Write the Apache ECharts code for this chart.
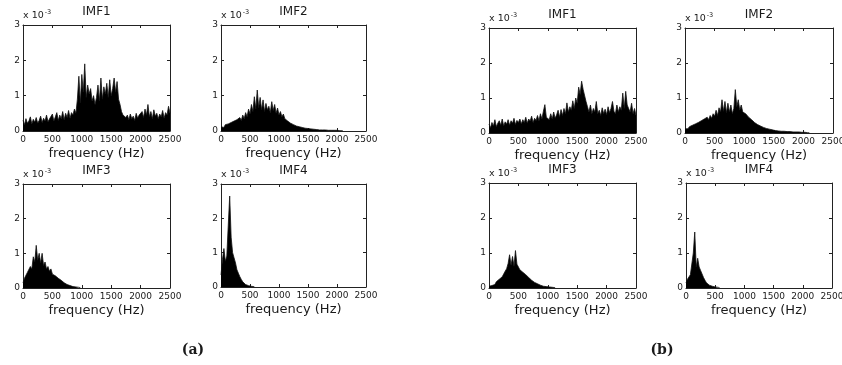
<!DOCTYPE html>
<html>
<head>
<meta charset="utf-8">
<script src="https://cdn.jsdelivr.net/npm/echarts@6/dist/echarts.min.js"></script>
<style>
html, body { margin: 0; padding: 0; background: #fff; }
#chart { width: 842px; height: 365px; }
</style>
</head>
<body>
<div id="chart"></div>
<script>
// spectra sampled every STEP Hz, amplitude in units of 1e-3
const STEP = 25;
const freqTicks = [0, 500, 1000, 1500, 2000, 2500];
const ampTicks = [0, 1, 2, 3];

// (a)
const imf1A = [
  0.30, 0.18, 0.35, 0.22, 0.28, 0.40, 0.20, 0.33, 0.25, 0.38,
  0.22, 0.30, 0.42, 0.24, 0.36, 0.28, 0.45, 0.26, 0.34, 0.30,
  0.48, 0.28, 0.40, 0.52, 0.30, 0.45, 0.35, 0.55, 0.32, 0.50,
  0.38, 0.58, 0.36, 0.52, 0.45, 0.62, 0.50, 0.90, 1.55, 0.80,
  1.60, 1.10, 1.90, 0.95, 1.30, 1.05, 1.20, 0.85, 1.00, 0.75,
  0.95, 1.30, 0.85, 1.50, 0.90, 1.25, 1.05, 1.35, 0.95, 1.45,
  1.00, 1.20, 1.50, 1.10, 1.40, 0.90, 0.75, 0.55, 0.45, 0.50,
  0.38, 0.45, 0.32, 0.48, 0.35, 0.42, 0.30, 0.50, 0.36, 0.45,
  0.40, 0.55, 0.38, 0.62, 0.45, 0.75, 0.40, 0.55, 0.35, 0.60,
  0.42, 0.50, 0.35, 0.48, 0.40, 0.58, 0.36, 0.52, 0.45, 0.70,
  0.50
];
const imf2A = [
  0.12, 0.15, 0.10, 0.18, 0.14, 0.20, 0.16, 0.24, 0.20, 0.28,
  0.25, 0.32, 0.28, 0.38, 0.30, 0.45, 0.35, 0.52, 0.40, 0.62,
  0.48, 0.75, 0.55, 0.97, 0.62, 1.16, 0.66, 0.95, 0.60, 0.88,
  0.55, 0.78, 0.60, 0.70, 0.52, 0.83, 0.58, 0.75, 0.50, 0.65,
  0.45, 0.55, 0.40, 0.48, 0.35, 0.40, 0.28, 0.32, 0.22, 0.25,
  0.18, 0.20, 0.14, 0.16, 0.12, 0.13, 0.10, 0.10, 0.08, 0.08,
  0.07, 0.06, 0.06, 0.05, 0.05, 0.04, 0.04, 0.04, 0.03, 0.03,
  0.03, 0.03, 0.03, 0.02, 0.02, 0.02, 0.02, 0.02, 0.02, 0.02,
  0.02, 0.01, 0.01, 0.01, 0.01
];
const imf3A = [
  0.15, 0.28, 0.25, 0.45, 0.40, 0.62, 0.55, 0.90, 0.75, 1.23,
  0.80, 1.00, 0.72, 1.00, 0.65, 0.75, 0.55, 0.62, 0.48, 0.55,
  0.40, 0.45, 0.35, 0.38, 0.28, 0.30, 0.22, 0.22, 0.15, 0.15,
  0.10, 0.10, 0.07, 0.06, 0.04, 0.03, 0.03, 0.02, 0.02, 0.01
];
const imf4A = [
  0.35, 0.80, 1.12, 0.75, 0.90, 1.80, 2.65, 1.45, 1.00, 0.85,
  0.70, 0.50, 0.40, 0.30, 0.22, 0.15, 0.10, 0.07, 0.05, 0.04,
  0.03, 0.02, 0.02, 0.01
];

// (b)
const imf1B = [
  0.25, 0.15, 0.30, 0.20, 0.38, 0.18, 0.28, 0.35, 0.22, 0.40,
  0.20, 0.32, 0.25, 0.38, 0.22, 0.35, 0.28, 0.42, 0.24, 0.36,
  0.30, 0.40, 0.26, 0.38, 0.30, 0.45, 0.28, 0.40, 0.34, 0.48,
  0.30, 0.42, 0.36, 0.50, 0.35, 0.55, 0.40, 0.62, 0.81, 0.45,
  0.50, 0.38, 0.55, 0.40, 0.60, 0.42, 0.52, 0.65, 0.45, 0.67,
  0.50, 0.70, 0.55, 0.86, 0.60, 0.75, 0.65, 0.92, 0.70, 1.00,
  0.85, 1.31, 1.10, 1.48, 1.25, 1.20, 0.90, 0.75, 0.60, 0.80,
  0.55, 0.70, 0.60, 0.90, 0.55, 0.65, 0.50, 0.72, 0.55, 0.68,
  0.52, 0.75, 0.58, 0.70, 0.90, 0.62, 0.55, 0.80, 0.60, 0.75,
  0.65, 1.14, 0.70, 1.19, 0.80, 0.85, 0.60, 0.85, 0.55, 0.70,
  0.50
];
const imf2B = [
  0.12, 0.15, 0.12, 0.18, 0.15, 0.22, 0.18, 0.26, 0.22, 0.30,
  0.28, 0.35, 0.30, 0.40, 0.35, 0.45, 0.38, 0.50, 0.42, 0.55,
  0.48, 0.65, 0.50, 0.72, 0.60, 0.95, 0.62, 0.90, 0.58, 0.85,
  0.60, 0.80, 0.55, 0.70, 1.24, 0.75, 0.95, 0.65, 0.80, 0.60,
  0.62, 0.55, 0.50, 0.45, 0.42, 0.38, 0.35, 0.30, 0.28, 0.24,
  0.22, 0.20, 0.18, 0.16, 0.15, 0.13, 0.12, 0.11, 0.10, 0.09,
  0.08, 0.07, 0.07, 0.06, 0.06, 0.05, 0.05, 0.05, 0.04, 0.04,
  0.04, 0.04, 0.03, 0.03, 0.03, 0.03, 0.03, 0.03, 0.03, 0.02,
  0.02, 0.02, 0.02, 0.01, 0.01
];
const imf3B = [
  0.05, 0.08, 0.07, 0.12, 0.10, 0.18, 0.15, 0.25, 0.22, 0.32,
  0.40, 0.48, 0.55, 0.70, 0.95, 0.65, 0.90, 0.62, 1.07, 0.68,
  0.60, 0.52, 0.55, 0.45, 0.45, 0.38, 0.36, 0.30, 0.28, 0.22,
  0.20, 0.16, 0.15, 0.12, 0.10, 0.08, 0.07, 0.05, 0.05, 0.04,
  0.03, 0.03, 0.02, 0.02, 0.01, 0.01
];
const imf4B = [
  0.15, 0.25, 0.30, 0.38, 0.35, 1.00, 1.60, 0.60, 0.85, 0.60,
  0.50, 0.40, 0.30, 0.22, 0.15, 0.12, 0.08, 0.06, 0.05, 0.04,
  0.03, 0.02, 0.02, 0.01
];

const panels = [
  { title: 'IMF1', values: imf1A, box: [23, 25, 147, 106] },
  { title: 'IMF2', values: imf2A, box: [221, 25, 145, 106] },
  { title: 'IMF3', values: imf3A, box: [23, 184, 147, 104] },
  { title: 'IMF4', values: imf4A, box: [221, 184, 145, 103] },
  { title: 'IMF1', values: imf1B, box: [489, 28, 147, 105] },
  { title: 'IMF2', values: imf2B, box: [685, 28, 148, 105] },
  { title: 'IMF3', values: imf3B, box: [489, 183, 147, 105] },
  { title: 'IMF4', values: imf4B, box: [686, 183, 146, 105] }
];

const FONT = '"DejaVu Sans", sans-serif';
const INK = '#1a1a1a';

const chart = echarts.init(document.getElementById('chart'));

const grid = [];
const xAxis = [];
const yAxis = [];
const series = [];

panels.forEach((p, i) => {
  const [left, top, width, height] = p.box;
  grid.push({ left, top, width, height, outerBoundsMode: 'none' });

  const line = { show: true, onZero: false, lineStyle: { color: '#222', width: 1 } };
  const tick = { show: true, inside: true, length: 3, lineStyle: { color: '#222', width: 1 } };
  const xBase = {
    gridIndex: i, type: 'value',
    min: freqTicks[0], max: freqTicks[freqTicks.length - 1],
    interval: freqTicks[1] - freqTicks[0],
    axisLine: line, axisTick: tick, splitLine: { show: false }
  };
  const yBase = {
    gridIndex: i, type: 'value',
    min: ampTicks[0], max: ampTicks[ampTicks.length - 1],
    interval: ampTicks[1] - ampTicks[0],
    axisLine: line, axisTick: tick, splitLine: { show: false }
  };

  xAxis.push(Object.assign({}, xBase, {
    position: 'bottom',
    axisLabel: { fontFamily: FONT, fontSize: 9, color: INK, margin: 4, formatter: (v) => String(v) },
    name: 'frequency (Hz)', nameLocation: 'middle', nameGap: 23,
    nameTextStyle: { fontFamily: FONT, fontSize: 13, color: INK, verticalAlign: 'middle' }
  }));
  xAxis.push(Object.assign({}, xBase, {
    position: 'top',
    axisLabel: { show: false },
    name: p.title, nameLocation: 'middle', nameGap: 13,
    nameTextStyle: { fontFamily: FONT, fontSize: 12, color: INK, verticalAlign: 'middle' }
  }));
  yAxis.push(Object.assign({}, yBase, {
    position: 'left',
    axisLabel: { fontFamily: FONT, fontSize: 9, color: INK, margin: 3, formatter: (v) => String(v) },
    name: '{b|x 10}{s|-3}', nameLocation: 'end', nameGap: 8,
    nameTextStyle: {
      align: 'left', verticalAlign: 'middle',
      rich: {
        b: { fontFamily: FONT, fontSize: 9.5, color: INK },
        s: { fontFamily: FONT, fontSize: 6.5, color: INK, padding: [0, 0, 6, 1] }
      }
    }
  }));
  yAxis.push(Object.assign({}, yBase, {
    position: 'right',
    axisLabel: { show: false }
  }));

  series.push({
    type: 'line',
    xAxisIndex: 2 * i,
    yAxisIndex: 2 * i,
    data: p.values.map((v, k) => [k * STEP, v]),
    showSymbol: false,
    symbol: 'none',
    lineStyle: { color: '#111', width: 0.8 },
    areaStyle: { color: '#000', opacity: 1 },
    silent: true
  });
});

chart.setOption({
  animation: false,
  backgroundColor: '#fff',
  title: [
    { text: '(a)', left: 188, top: 338, textAlign: 'center',
      textStyle: { fontFamily: '"DejaVu Serif", serif', fontWeight: 'bold', fontSize: 14, color: INK } },
    { text: '(b)', left: 657, top: 338, textAlign: 'center',
      textStyle: { fontFamily: '"DejaVu Serif", serif', fontWeight: 'bold', fontSize: 14, color: INK } }
  ],
  grid,
  xAxis,
  yAxis,
  series
});
</script>
</body>
</html>
